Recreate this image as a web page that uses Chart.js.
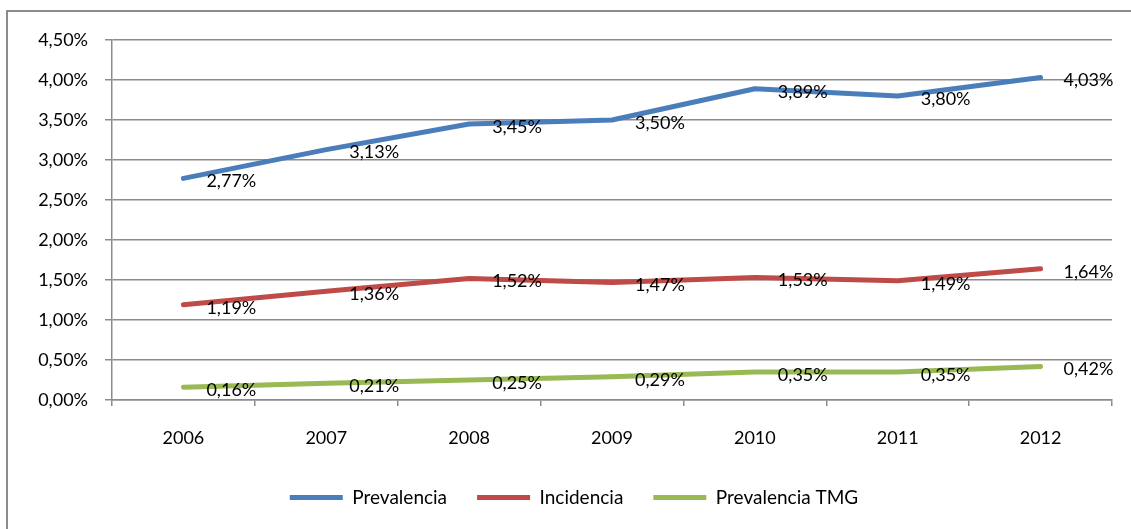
<!DOCTYPE html>
<html>
<head>
<meta charset="utf-8">
<script src="https://cdn.jsdelivr.net/npm/chart.js@4/dist/chart.umd.min.js"></script>
<style>
  body { margin: 0; background: #fff; overflow: hidden; }
  #wrap { position: relative; width: 1131px; height: 529px; }
  #frame { position: absolute; left: 6px; top: 10px; width: 1200px; height: 600px;
           border-left: 2px solid #8c8c8c; border-top: 2px solid #8c8c8c; }
  canvas { position: absolute; left: 0; top: 0; }
</style>
</head>
<body>
<div id="wrap">
  <div id="frame"></div>
  <canvas id="chart" width="1131" height="529"></canvas>
</div>
<script>
let years = ['2006', '2007', '2008', '2009', '2010', '2011', '2012']
let prevalencia = [2.77, 3.13, 3.45, 3.50, 3.89, 3.80, 4.03]
let incidencia = [1.19, 1.36, 1.52, 1.47, 1.53, 1.49, 1.64]
let prevalenciaTMG = [0.16, 0.21, 0.25, 0.29, 0.35, 0.35, 0.42]

let fmt = v => v.toFixed(2).replace('.', ',') + '%'
let txtfont = {family: 'Lato', size: 18}

// labels to the right of every point, like the excel data labels
let pointlabels = {
  id: 'pointlabels',
  afterDatasetsDraw(chart) {
    let ctx = chart.ctx
    ctx.save()
    ctx.font = '18px Lato'
    ctx.fillStyle = '#000'
    ctx.textAlign = 'left'
    ctx.textBaseline = 'middle'
    chart.data.datasets.forEach((ds, i) => {
      chart.getDatasetMeta(i).data.forEach((pt, j) => {
        ctx.fillText(fmt(ds.data[j]), pt.x + 23, pt.y + 3)
      })
    })
    ctx.restore()
  }
}

function line(label, data, color) {
  return {
    label: label, data: data,
    borderColor: color, backgroundColor: color,
    borderWidth: 5, pointRadius: 0, tension: 0,
    borderCapStyle: 'round', borderJoinStyle: 'round',
    pointStyle: 'line'
  }
}

new Chart(document.getElementById('chart'), {
  type: 'line',
  data: {
    labels: years,
    datasets: [
      line('Prevalencia', prevalencia, '#4a7ebb'),
      line('Incidencia', incidencia, '#be4b48'),
      line('Prevalencia TMG', prevalenciaTMG, '#98b954')
    ]
  },
  plugins: [pointlabels],
  options: {
    responsive: false,
    animation: false,
    layout: {padding: {left: 36, right: 19, top: 40, bottom: 12}},
    plugins: {
      tooltip: {enabled: false},
      legend: {
        position: 'bottom',
        labels: {
          usePointStyle: true, pointStyle: 'line', pointStyleWidth: 53,
          padding: 30, color: '#000', font: {family: 'Lato', size: 19}
        }
      }
    },
    scales: {
      x: {
        offset: true,
        afterFit: s => { s.height = 58 },
        grid: {offset: true, drawOnChartArea: false, tickLength: 6, color: '#8c8c8c', lineWidth: 1.5},
        border: {color: '#8c8c8c', width: 1.5},
        ticks: {color: '#000', font: txtfont, padding: 21, maxRotation: 0}
      },
      y: {
        min: 0, max: 4.5,
        afterFit: s => { s.width = 76 },
        grid: {color: '#8c8c8c', lineWidth: 1.5, tickLength: 7},
        border: {color: '#8c8c8c', width: 1.5},
        ticks: {stepSize: 0.5, color: '#000', font: txtfont, padding: 17, callback: v => fmt(v)}
      }
    }
  }
})
</script>
</body>
</html>
